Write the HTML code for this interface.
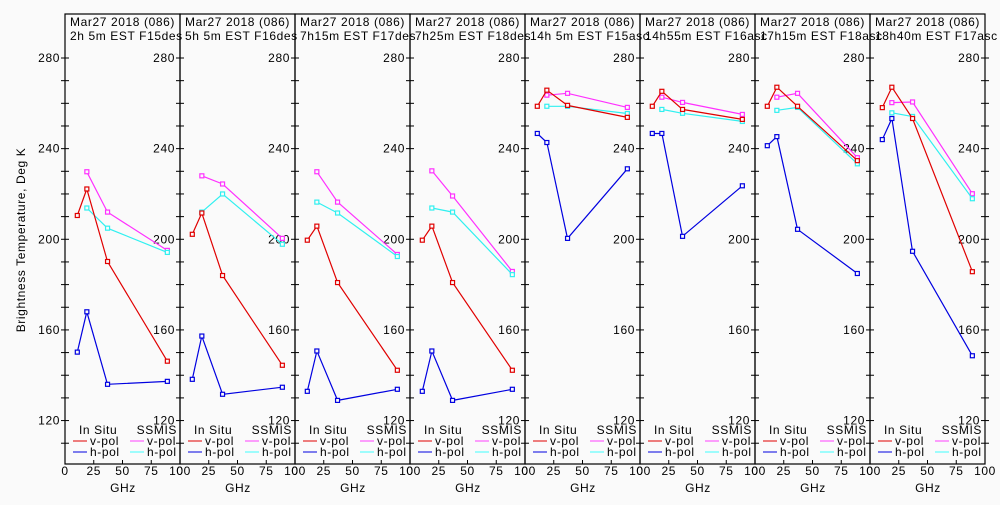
<!DOCTYPE html>
<html><head><meta charset="utf-8"><style>
body{margin:0;background:#fafafa;}
svg text{font-family:"Liberation Sans",sans-serif;font-size:12px;fill:#000;letter-spacing:0.6px;}
</style></head><body>
<svg id="c" width="1000" height="500" xmlns="http://www.w3.org/2000/svg"></svg>
<script>
const titles1=["Mar27 2018 (086)","Mar27 2018 (086)","Mar27 2018 (086)","Mar27 2018 (086)","Mar27 2018 (086)","Mar27 2018 (086)","Mar27 2018 (086)","Mar27 2018 (086)"];
const titles2=["2h 5m  EST F15des","5h 5m  EST F16des","7h15m  EST F17des","7h25m  EST F18des","14h 5m  EST F15asc","14h55m  EST F16asc","17h15m  EST F18asc","18h40m  EST F17asc"];
const insituFreq=[10.7,19,37,89];
const ssmisFreq=[19,37,89];
const vpol=[[210.5,222.2,190.2,146.2],[202.2,211.6,184,144.4],[199.6,205.8,180.9,142.2],[199.6,205.8,180.9,142.2],[258.7,265.8,259.1,253.8],[258.7,265.3,257.3,252.9],[258.7,267.1,258.7,234.7],[258.1,267.1,253.3,185.7]];
const hpol=[[150.2,168,136,137.3],[138.2,157.3,131.6,134.7],[132.9,150.7,128.9,133.8],[132.9,150.7,128.9,133.8],[246.7,242.7,200.4,231.1],[246.7,246.7,201.3,223.6],[241.3,245.3,204.4,184.9],[244,253.3,194.7,148.6]];
const ssmisV=[[229.8,212,195.1],[228,224.4,200.4],[229.8,216.4,193.3],[230.2,219.1,185.8],[263.6,264.4,258.2],[262.7,260.4,255.1],[262.7,264.4,236],[260.3,260.6,220.1]];
const ssmisH=[[213.8,204.9,194.2],[212,220,197.8],[216.4,211.6,192.4],[213.8,212,184.4],[258.7,258.7,255.5],[257.3,255.6,252],[256.9,258.2,233.3],[255.8,254.2,217.9]];
const yTicks=[120,160,200,240,280];
const xTicks=[0,25,50,75,100];

const svg=document.getElementById('c');
const NS="http://www.w3.org/2000/svg";
const P0=65,PW=115,TOP=14,BOT=464;
function yS(v){return 58+(280-v)*2.266;}
function xS(i,f){return P0+i*PW+f*1.15;}
function mk(tag,attrs,parent){const e=document.createElementNS(NS,tag);for(const k in attrs)e.setAttribute(k,attrs[k]);(parent||svg).appendChild(e);return e;}
function txt(x,y,s,anchor,parent){const t=mk('text',{x:x,y:y,'text-anchor':anchor||'start'},parent);t.textContent=s;return t;}

const yt=txt(25,240,"Brightness Temperature, Deg K","middle");
yt.setAttribute('transform','rotate(-90 25 240)');



for(let i=0;i<8;i++){
  const g=mk('g',{});
  
  
  const L=P0+i*PW,R=L+PW;
  mk('rect',{x:L,y:TOP,width:PW,height:BOT-TOP,fill:'none',stroke:'#000','stroke-width':1.2},g);
  const t1=txt(L+5,26,titles1[i],'start',g);
  
  
  const t2=txt(L+5,40,titles2[i],'start',g);
  
  
  for(let v=80;v<=280;v+=10){
    const y=yS(v);
    if(y>=BOT) continue;
    mk('line',{x1:L-4,x2:L+4,y1:y,y2:y,stroke:'#000'},g);
    if(i==7) mk('line',{x1:R-4,x2:R+4,y1:y,y2:y,stroke:'#000'},g);
  }
  yTicks.forEach(v=>{
    const y=yS(v)+4;
    if(i==0) txt(L-5,y,String(v),'end',g);
    const tl=txt(R-5,y,String(v),'end',g);
    
    
  });
  xTicks.forEach(f=>{
    const x=xS(i,f);
    mk('line',{x1:x,x2:x,y1:BOT,y2:BOT-4,stroke:'#000'},g);
    const xl=txt(x,475,String(f),'middle',g);
    
    
  });
  const gx=txt(L+58,492,"GHz",'middle',g);
  
  
  txt(L+14,434,"In Situ",'start',g);
  txt(L+112,434,"SSMIS",'end',g);
  mk('line',{x1:L+8,x2:L+22,y1:441,y2:441,stroke:'#e00000'},g);
  txt(L+25,445,"v-pol",'start',g);
  mk('line',{x1:L+8,x2:L+22,y1:452,y2:452,stroke:'#0000e0'},g);
  txt(L+25,456,"h-pol",'start',g);
  mk('line',{x1:L+65,x2:L+79,y1:441,y2:441,stroke:'#ff40ff'},g);
  txt(L+82,445,"v-pol",'start',g);
  mk('line',{x1:L+65,x2:L+79,y1:452,y2:452,stroke:'#40ffff'},g);
  txt(L+82,456,"h-pol",'start',g);
  const series=[[ssmisV[i],ssmisFreq,'#ff30ff','ssmis-vpol'],[ssmisH[i],ssmisFreq,'#30f0f0','ssmis-hpol'],[vpol[i],insituFreq,'#e00000','insitu-vpol'],[hpol[i],insituFreq,'#0000e0','insitu-hpol']];
  series.forEach(([vals,fr,col,name])=>{
    const pts=vals.map((v,k)=>xS(i,fr[k]).toFixed(1)+','+yS(v).toFixed(1)).join(' ');
    const pl=mk('polyline',{points:pts,fill:'none',stroke:col,'stroke-width':1.2},g);
    
    
    vals.forEach((v,k)=>{
      const r=mk('rect',{x:xS(i,fr[k])-2,y:yS(v)-2,width:4,height:4,fill:'#fafafa',stroke:col,'stroke-width':1.2},g);
      
      
    });
  });
}
</script>
</body></html>
